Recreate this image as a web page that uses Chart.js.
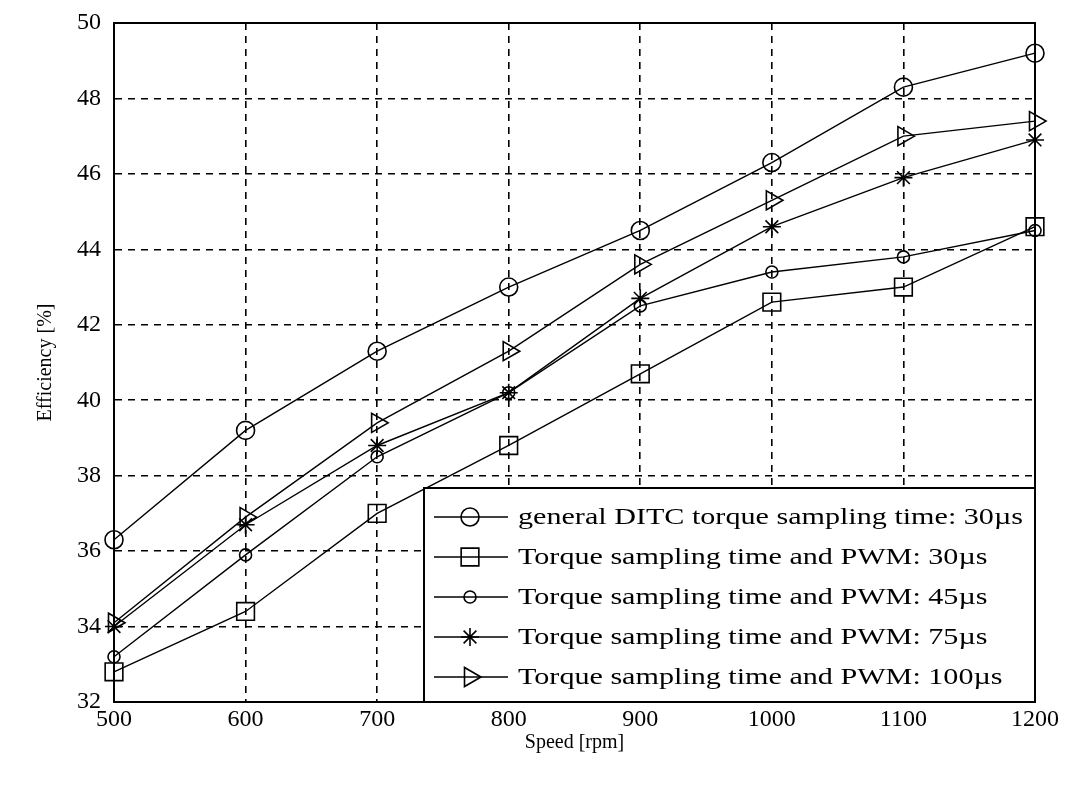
<!DOCTYPE html>
<html>
<head>
<meta charset="utf-8">
<script src="https://cdn.jsdelivr.net/npm/chart.js@4/dist/chart.umd.min.js"></script>
<style>
  html, body { margin: 0; padding: 0; background: #fff; }
  #wrap { width: 1078px; height: 788px; }
</style>
</head>
<body>
<div id="wrap"><canvas id="chart" width="1078" height="788"></canvas></div>
<script>
// data
const speeds = [500, 600, 700, 800, 900, 1000, 1100, 1200];
const generalDitc30 = [36.3, 39.2, 41.3, 43.0, 44.5, 46.3, 48.3, 49.2];
const pwm30 = [32.8, 34.4, 37.0, 38.8, 40.7, 42.6, 43.0, 44.6];
const pwm45 = [33.2, 35.9, 38.5, 40.2, 42.5, 43.4, 43.8, 44.5];
const pwm75 = [34.0, 36.7, 38.8, 40.2, 42.7, 44.6, 45.9, 46.9];
const pwm100 = [34.1, 36.9, 39.4, 41.3, 43.6, 45.3, 47.0, 47.4];
const seriesLabels = [
  "general DITC torque sampling time: 30\u00b5s",
  "Torque sampling time and PWM: 30\u00b5s",
  "Torque sampling time and PWM: 45\u00b5s",
  "Torque sampling time and PWM: 75\u00b5s",
  "Torque sampling time and PWM: 100\u00b5s"
];
const xTicks = [500, 600, 700, 800, 900, 1000, 1100, 1200];
const yTicks = [32, 34, 36, 38, 40, 42, 44, 46, 48, 50];

const serif = "'Liberation Serif', 'DejaVu Serif', serif";

function makeSet(label, values, style, radius, rotation) {
  return {
    label: label,
    data: speeds.map((s, i) => ({ x: s, y: values[i] })),
    borderColor: "#000",
    borderWidth: 1.4,
    backgroundColor: "rgba(0,0,0,0)",
    pointStyle: style,
    pointRadius: radius,
    pointRotation: rotation || 0,
    pointBorderColor: "#000",
    pointBorderWidth: 1.6,
    pointBackgroundColor: "rgba(0,0,0,0)",
    tension: 0,
    clip: false
  };
}

// legend box in the lower right corner of the plot
const boxLegend = {
  id: "boxLegend",
  afterDraw(chart) {
    const ctx = chart.ctx;
    const area = chart.chartArea;
    const left = 424, top = 488;
    ctx.save();
    ctx.fillStyle = "#fff";
    ctx.fillRect(left, top, area.right - left, area.bottom - top);
    ctx.strokeStyle = "#000";
    ctx.lineWidth = 2;
    ctx.strokeRect(left, top, area.right - left, area.bottom - top);
    ctx.font = "24px " + serif;
    ctx.textBaseline = "middle";
    // the scanned legend text is wider than Times, stretch it to the same span
    const stretch = 505 / ctx.measureText(chart.data.datasets[0].label).width;
    chart.data.datasets.forEach((ds, i) => {
      const y = 517 + i * 40;
      ctx.strokeStyle = "#000";
      ctx.lineWidth = 1.6;
      ctx.beginPath();
      ctx.moveTo(434, y);
      ctx.lineTo(508, y);
      ctx.stroke();
      ctx.lineWidth = ds.pointBorderWidth;
      ctx.fillStyle = "rgba(0,0,0,0)";
      Chart.helpers.drawPoint(ctx, {
        pointStyle: ds.pointStyle,
        rotation: ds.pointRotation,
        radius: ds.pointRadius,
        borderWidth: ds.pointBorderWidth
      }, 470, y);
      ctx.fillStyle = "#000";
      ctx.save();
      ctx.translate(518, y + 1);
      ctx.scale(stretch, 1);
      ctx.fillText(ds.label, 0, 0);
      ctx.restore();
    });
    ctx.restore();
  }
};

new Chart(document.getElementById("chart"), {
  type: "line",
  data: {
    datasets: [
      makeSet(seriesLabels[0], generalDitc30, "circle", 9),
      makeSet(seriesLabels[1], pwm30, "rect", 12.5),
      makeSet(seriesLabels[2], pwm45, "circle", 6),
      makeSet(seriesLabels[3], pwm75, "star", 9),
      makeSet(seriesLabels[4], pwm100, "triangle", 11, 90)
    ]
  },
  options: {
    responsive: false,
    animation: false,
    layout: { padding: { top: 23, right: 43, bottom: 33, left: 34 } },
    plugins: {
      legend: { display: false },
      tooltip: { enabled: false }
    },
    scales: {
      x: {
        type: "linear",
        min: 500,
        max: 1200,
        afterBuildTicks: axis => { axis.ticks = xTicks.map(v => ({ value: v })); },
        afterFit: axis => { axis.height = 53; },
        border: { display: true, color: "#000", width: 2, dash: [7, 6] },
        grid: { color: "#000", lineWidth: 1.6, drawTicks: false },
        ticks: {
          color: "#000", font: { family: serif, size: 24 }, padding: 3, maxRotation: 0,
          callback: v => String(v)
        },
        title: { display: true, text: "Speed [rpm]", color: "#000", font: { family: serif, size: 20 }, padding: 0 }
      },
      y: {
        min: 32,
        max: 50,
        afterBuildTicks: axis => { axis.ticks = yTicks.map(v => ({ value: v })); },
        afterFit: axis => {
          axis.width = 80;
          axis.paddingTop = 0;
          axis.paddingBottom = 0;
        },
        border: { display: true, color: "#000", width: 2, dash: [7, 6] },
        grid: { color: "#000", lineWidth: 1.6, drawTicks: false },
        ticks: { color: "#000", font: { family: serif, size: 24 }, padding: 13, callback: v => String(v) },
        title: { display: true, text: "Efficiency [%]", color: "#000", font: { family: serif, size: 20 }, padding: 0 }
      }
    }
  },
  plugins: [boxLegend, {
    id: "frame",
    afterDatasetsDraw(chart) {
      const a = chart.chartArea, ctx = chart.ctx;
      ctx.save();
      ctx.strokeStyle = "#000";
      ctx.lineWidth = 2;
      ctx.setLineDash([]);
      ctx.strokeRect(a.left, a.top, a.right - a.left, a.bottom - a.top);
      ctx.restore();
    }
  }]
});
</script>
</body>
</html>
